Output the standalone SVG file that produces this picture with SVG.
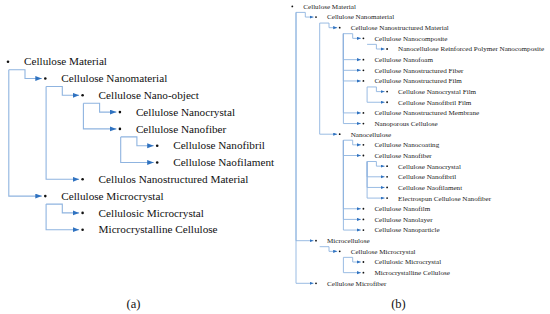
<svg xmlns="http://www.w3.org/2000/svg" width="550" height="314" viewBox="0 0 550 314">
<style>
.ta{font-family:"Liberation Serif","Times New Roman",serif;font-size:11.2px;fill:#111}
.tb{font-family:"Liberation Serif","Times New Roman",serif;font-size:7.1px;fill:#1a1a1a}
.cap{font-family:"Liberation Serif","Times New Roman",serif;font-size:12.5px;fill:#111;text-anchor:middle}
.ca{fill:none;stroke:#8fb4e0;stroke-width:1.1;marker-end:url(#arA)}
.cb{fill:none;stroke:#8fb4e0;stroke-width:0.9;marker-end:url(#arB)}
.bu{fill:#111}
</style>
<defs>
<marker id="arA" markerUnits="userSpaceOnUse" markerWidth="7" markerHeight="6" refX="6.5" refY="2.5" orient="auto"><path d="M0,0 L6.5,2.5 L0,5 z" fill="#2f72c0"/></marker>
<marker id="arB" markerUnits="userSpaceOnUse" markerWidth="5" markerHeight="4" refX="4" refY="1.6" orient="auto"><path d="M0,0 L4,1.6 L0,3.2 z" fill="#2f72c0"/></marker>
</defs>
<rect width="550" height="314" fill="#fff"/>

<g id="connectors-a">
<path class="ca" d="M8.8,69.7 H25 V78.5 H41.8"/>
<path class="ca" d="M8.8,69.7 V196.1 H41.8"/>
<path class="ca" d="M46.1,86.5 H62.3 V95.3 H79.1"/>
<path class="ca" d="M46.1,86.5 V179.3 H79.1"/>
<path class="ca" d="M83.4,103.3 H99.6 V112.1 H116.4"/>
<path class="ca" d="M83.4,103.3 V128.9 H116.4"/>
<path class="ca" d="M120.7,136.9 H136.9 V145.7 H153.7"/>
<path class="ca" d="M120.7,136.9 V162.5 H153.7"/>
<path class="ca" d="M46.1,204.1 H62.3 V212.9 H79.1"/>
<path class="ca" d="M46.1,204.1 V229.7 H79.1"/>
</g>

<g id="a-n0"><circle class="bu" cx="8" cy="61.7" r="1.3"/><text class="ta" x="24" y="65.3">Cellulose Material</text></g>
<g id="a-n1"><circle class="bu" cx="45.3" cy="78.5" r="1.3"/><text class="ta" x="61.3" y="82.1">Cellulose Nanomaterial</text></g>
<g id="a-n2"><circle class="bu" cx="82.6" cy="95.3" r="1.3"/><text class="ta" x="98.6" y="98.9">Cellulose Nano-object</text></g>
<g id="a-n3"><circle class="bu" cx="119.9" cy="112.1" r="1.3"/><text class="ta" x="135.9" y="115.7">Cellulose Nanocrystal</text></g>
<g id="a-n4"><circle class="bu" cx="119.9" cy="128.9" r="1.3"/><text class="ta" x="135.9" y="132.5">Cellulose Nanofiber</text></g>
<g id="a-n5"><circle class="bu" cx="157.2" cy="145.7" r="1.3"/><text class="ta" x="173.2" y="149.3">Cellulose Nanofibril</text></g>
<g id="a-n6"><circle class="bu" cx="157.2" cy="162.5" r="1.3"/><text class="ta" x="173.2" y="166.1">Cellulose Naofilament</text></g>
<g id="a-n7"><circle class="bu" cx="82.6" cy="179.3" r="1.3"/><text class="ta" x="98.6" y="182.9">Cellulos Nanostructured Material</text></g>
<g id="a-n8"><circle class="bu" cx="45.3" cy="196.1" r="1.3"/><text class="ta" x="61.3" y="199.7">Cellulose Microcrystal</text></g>
<g id="a-n9"><circle class="bu" cx="82.6" cy="212.9" r="1.3"/><text class="ta" x="98.6" y="216.5">Cellulosic Microcrystal</text></g>
<g id="a-n10"><circle class="bu" cx="82.6" cy="229.7" r="1.3"/><text class="ta" x="98.6" y="233.3">Microcrystalline Cellulose</text></g>

<g id="connectors-b">
<path class="cb" d="M296,12.4 H305.3 V17.05 H313.5"/>
<path class="cb" d="M296,12.4 V240.7 H313.5"/>
<path class="cb" d="M296,12.4 V283.3 H313.5"/>
<path class="cb" d="M319.7,23.05 H329 V27.7 H337.2"/>
<path class="cb" d="M319.7,23.05 V134.2 H337.2"/>
<path class="cb" d="M343.4,33.7 H352.7 V38.35 H360.9"/>
<path class="cb" d="M343.4,33.7 V59.65 H360.9"/>
<path class="cb" d="M343.4,33.7 V70.3 H360.9"/>
<path class="cb" d="M343.4,33.7 V80.95 H360.9"/>
<path class="cb" d="M343.4,33.7 V112.9 H360.9"/>
<path class="cb" d="M343.4,33.7 V123.55 H360.9"/>
<path class="cb" d="M367.1,44.35 H376.4 V49 H384.6"/>
<path class="cb" d="M367.1,86.95 H376.4 V91.6 H384.6"/>
<path class="cb" d="M367.1,86.95 V102.25 H384.6"/>
<path class="cb" d="M343.4,140.2 H352.7 V144.85 H360.9"/>
<path class="cb" d="M343.4,140.2 V155.5 H360.9"/>
<path class="cb" d="M343.4,140.2 V208.75 H360.9"/>
<path class="cb" d="M343.4,140.2 V219.4 H360.9"/>
<path class="cb" d="M343.4,140.2 V230.05 H360.9"/>
<path class="cb" d="M367.1,161.5 H376.4 V166.15 H384.6"/>
<path class="cb" d="M367.1,161.5 V176.8 H384.6"/>
<path class="cb" d="M367.1,161.5 V187.45 H384.6"/>
<path class="cb" d="M367.1,161.5 V198.1 H384.6"/>
<path class="cb" d="M319.7,246.7 H329 V251.35 H337.2"/>
<path class="cb" d="M343.4,257.35 H352.7 V262 H360.9"/>
<path class="cb" d="M343.4,257.35 V272.65 H360.9"/>
</g>

<g id="b-n0"><circle class="bu" cx="292.3" cy="6.4" r="0.9"/><text class="tb" x="303.3" y="8.8">Cellulose Material</text></g>
<g id="b-n1"><circle class="bu" cx="316" cy="17.05" r="0.9"/><text class="tb" x="327" y="19.45">Cellulose Nanomaterial</text></g>
<g id="b-n2"><circle class="bu" cx="339.7" cy="27.7" r="0.9"/><text class="tb" x="350.7" y="30.1">Cellulose Nanostructured Material</text></g>
<g id="b-n3"><circle class="bu" cx="363.4" cy="38.35" r="0.9"/><text class="tb" x="374.4" y="40.75">Cellulose Nanocomposite</text></g>
<g id="b-n4"><circle class="bu" cx="387.1" cy="49" r="0.9"/><text class="tb" x="398.1" y="51.4">Nanocellulose Reinforced Polymer Nanocomposite</text></g>
<g id="b-n5"><circle class="bu" cx="363.4" cy="59.65" r="0.9"/><text class="tb" x="374.4" y="62.05">Cellulose Nanofoam</text></g>
<g id="b-n6"><circle class="bu" cx="363.4" cy="70.3" r="0.9"/><text class="tb" x="374.4" y="72.7">Cellulose Nanostructured Fiber</text></g>
<g id="b-n7"><circle class="bu" cx="363.4" cy="80.95" r="0.9"/><text class="tb" x="374.4" y="83.35">Cellulose Nanostructured Film</text></g>
<g id="b-n8"><circle class="bu" cx="387.1" cy="91.6" r="0.9"/><text class="tb" x="398.1" y="94">Cellulose Nanocrystal Film</text></g>
<g id="b-n9"><circle class="bu" cx="387.1" cy="102.25" r="0.9"/><text class="tb" x="398.1" y="104.65">Cellulose Nanofibril Film</text></g>
<g id="b-n10"><circle class="bu" cx="363.4" cy="112.9" r="0.9"/><text class="tb" x="374.4" y="115.3">Cellulose Nanostructured Membrane</text></g>
<g id="b-n11"><circle class="bu" cx="363.4" cy="123.55" r="0.9"/><text class="tb" x="374.4" y="125.95">Nanoporous Cellulose</text></g>
<g id="b-n12"><circle class="bu" cx="339.7" cy="134.2" r="0.9"/><text class="tb" x="350.7" y="136.6">Nanocellulose</text></g>
<g id="b-n13"><circle class="bu" cx="363.4" cy="144.85" r="0.9"/><text class="tb" x="374.4" y="147.25">Cellulose Nanocoating</text></g>
<g id="b-n14"><circle class="bu" cx="363.4" cy="155.5" r="0.9"/><text class="tb" x="374.4" y="157.9">Cellulose Nanofiber</text></g>
<g id="b-n15"><circle class="bu" cx="387.1" cy="166.15" r="0.9"/><text class="tb" x="398.1" y="168.55">Cellulose Nanocrystal</text></g>
<g id="b-n16"><circle class="bu" cx="387.1" cy="176.8" r="0.9"/><text class="tb" x="398.1" y="179.2">Cellulose Nanofibril</text></g>
<g id="b-n17"><circle class="bu" cx="387.1" cy="187.45" r="0.9"/><text class="tb" x="398.1" y="189.85">Cellulose Naofilament</text></g>
<g id="b-n18"><circle class="bu" cx="387.1" cy="198.1" r="0.9"/><text class="tb" x="398.1" y="200.5">Electrospun Cellulose Nanofiber</text></g>
<g id="b-n19"><circle class="bu" cx="363.4" cy="208.75" r="0.9"/><text class="tb" x="374.4" y="211.15">Cellulose Nanofilm</text></g>
<g id="b-n20"><circle class="bu" cx="363.4" cy="219.4" r="0.9"/><text class="tb" x="374.4" y="221.8">Cellulose Nanolayer</text></g>
<g id="b-n21"><circle class="bu" cx="363.4" cy="230.05" r="0.9"/><text class="tb" x="374.4" y="232.45">Cellulose Nanoparticle</text></g>
<g id="b-n22"><circle class="bu" cx="316" cy="240.7" r="0.9"/><text class="tb" x="327" y="243.1">Microcellulose</text></g>
<g id="b-n23"><circle class="bu" cx="339.7" cy="251.35" r="0.9"/><text class="tb" x="350.7" y="253.75">Cellulose Microcrystal</text></g>
<g id="b-n24"><circle class="bu" cx="363.4" cy="262" r="0.9"/><text class="tb" x="374.4" y="264.4">Cellulosic Microcrystal</text></g>
<g id="b-n25"><circle class="bu" cx="363.4" cy="272.65" r="0.9"/><text class="tb" x="374.4" y="275.05">Microcrystalline Cellulose</text></g>
<g id="b-n26"><circle class="bu" cx="316" cy="283.3" r="0.9"/><text class="tb" x="327" y="285.7">Cellulose Microfiber</text></g>

<text class="cap" x="133.5" y="307.5">(a)</text>
<text class="cap" x="398.5" y="307.5">(b)</text>
</svg>
